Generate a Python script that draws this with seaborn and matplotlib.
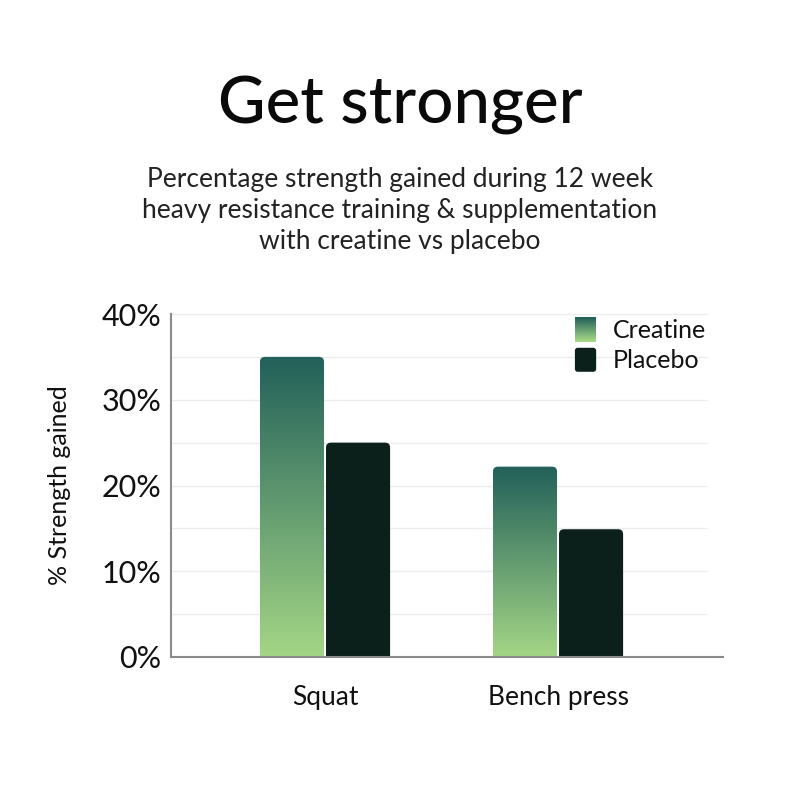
import numpy as np
import pandas as pd
import matplotlib
matplotlib.use("Agg")
import matplotlib.pyplot as plt
import seaborn as sns
from matplotlib.patches import FancyBboxPatch, Rectangle
from matplotlib.legend_handler import HandlerBase
from matplotlib.colors import LinearSegmentedColormap

# ---- data ----
categories = ["Squat", "Bench press"]
series = ["Creatine", "Placebo"]
creatine = [35.0, 22.2]
placebo = [25.0, 14.9]
yticks = [0, 10, 20, 30, 40]
ytick_labels = ["0%", "10%", "20%", "30%", "40%"]

title = "Get stronger"
subtitle = ("Percentage strength gained during 12 week\n"
            "heavy resistance training & supplementation\n"
            "with creatine vs placebo")
ylabel = "% Strength gained"

# ---- style ----
sns.set_theme(style="white")
plt.rcParams["font.family"] = ["Lato", "DejaVu Sans"]

grad_top = "#22605A"
grad_bottom = "#A4D686"
placebo_color = "#0B1F1B"
cmap = LinearSegmentedColormap.from_list("g", [grad_bottom, grad_top])

df = pd.DataFrame({
    "category": categories * 2,
    "series": [series[0]] * len(categories) + [series[1]] * len(categories),
    "value": creatine + placebo,
})

fig = plt.figure(figsize=(8, 8), dpi=100)
ax = fig.add_axes([171 / 800, 1 - 657 / 800, 552 / 800, 343 / 800])

sns.barplot(data=df, x="category", y="value", hue="series", order=categories,
            hue_order=series, palette=[grad_top, placebo_color], width=0.567,
            gap=0.03, saturation=1, legend=False, ax=ax, zorder=3)

XMIN, XMAX = -0.661, 1.708
YMIN, YMAX = 0, 40
px_x = 552 / (XMAX - XMIN)
px_y = 343 / (YMAX - YMIN)
r_px = 5.0
rx = r_px / px_x
aspect = (r_px / px_y) / rx

bars = [p for p in ax.patches if isinstance(p, Rectangle)]
for i, p in enumerate(bars):
    x0, w, h = p.get_x(), p.get_width(), p.get_height()
    p.set_visible(False)
    is_creatine = i < len(categories)
    fb = FancyBboxPatch((x0, -2), w, h + 2,
                        boxstyle=f"round,pad=0,rounding_size={rx}",
                        mutation_aspect=aspect, linewidth=0,
                        facecolor="none" if is_creatine else placebo_color,
                        zorder=3)
    ax.add_patch(fb)
    if is_creatine:
        grad = np.linspace(0, 1, 256).reshape(-1, 1)
        im = ax.imshow(grad, extent=[x0, x0 + w, 0, h], origin="lower",
                       cmap=cmap, aspect="auto", zorder=3,
                       interpolation="bilinear")
        im.set_clip_path(fb)

ax.set_xlim(XMIN, XMAX)
ax.set_ylim(YMIN, YMAX)

# gridlines
ax.hlines(np.arange(5, 41, 5), 0, 0.971, transform=ax.get_yaxis_transform(),
          color="#ECECEC", linewidth=1, zorder=1)

for s in ["top", "right"]:
    ax.spines[s].set_visible(False)
for s in ["left", "bottom"]:
    ax.spines[s].set_color("#8A8A8A")
    ax.spines[s].set_linewidth(1.5)
    ax.spines[s].set_zorder(4)

ax.set_yticks(yticks)
ax.set_yticklabels(ytick_labels, fontsize=22, color="#111111")
ax.tick_params(axis="y", length=0, pad=7)
ax.tick_params(axis="x", length=0, pad=20, labelsize=19, labelcolor="#111111")
ax.set_xlabel("")
ax.set_ylabel(ylabel, fontsize=18, color="#111111", labelpad=22)


class GradHandler(HandlerBase):
    def create_artists(self, legend, orig_handle, xdescent, ydescent, width,
                       height, fontsize, trans):
        n = 24
        arts = []
        for i in range(n):
            c = cmap(1 - i / (n - 1))
            r = Rectangle((0, -ydescent + height * (1 - (i + 1) / n)),
                          width, height / n + 0.3, facecolor=c, edgecolor="none",
                          transform=trans)
            arts.append(r)
        return arts


class SolidHandler(HandlerBase):
    def create_artists(self, legend, orig_handle, xdescent, ydescent, width,
                       height, fontsize, trans):
        return [FancyBboxPatch((0, -ydescent), width, height,
                               boxstyle="round,pad=0,rounding_size=2",
                               facecolor=placebo_color, edgecolor="none",
                               transform=trans)]


h1 = Rectangle((0, 0), 1, 1)
h2 = Rectangle((0, 0), 1, 1)
leg = ax.legend([h1, h2], series, handler_map={h1: GradHandler(), h2: SolidHandler()},
                loc="upper left", bbox_to_anchor=(0.70, 1.04), frameon=False,
                fontsize=18, handlelength=0.85, handleheight=1.1,
                handletextpad=0.65, labelspacing=0.22, borderpad=0.2)
for t in leg.get_texts():
    t.set_color("#111111")

fig.text(0.5, 0.868, title, ha="center", va="center", fontsize=47,
         color="#0A0A0A", fontweight="medium")
fig.text(0.5, 0.737, subtitle, ha="center", va="center", fontsize=19,
         color="#222222", linespacing=1.28)

fig.savefig("out.png", dpi=100, facecolor="white")
